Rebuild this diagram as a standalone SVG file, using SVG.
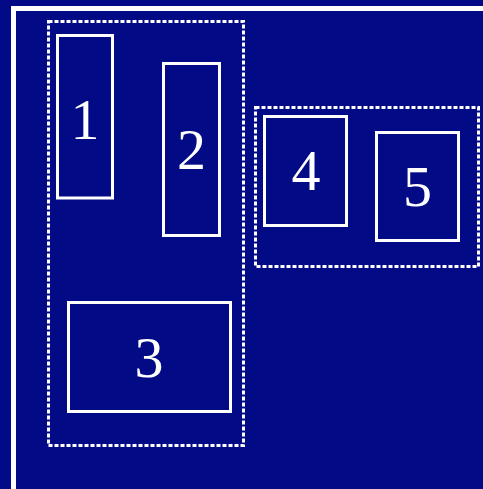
<svg xmlns="http://www.w3.org/2000/svg" width="483" height="489" viewBox="0 0 483 489">
<style>
.box{fill:none;stroke:#fff;stroke-width:3}
.grp{fill:none;stroke:#fff;stroke-width:3;stroke-dasharray:4 2}
.lbl{fill:#fff;font-family:"Liberation Serif","DejaVu Serif",serif;font-size:58px;text-anchor:middle}
</style>
<rect width="483" height="489" fill="#020a86"/>
<path d="M13.5,489 V8.5 H483" fill="none" stroke="#fff" stroke-width="5"/>
<g id="group-a"><rect class="grp" x="48.5" y="21.5" width="195" height="424"/></g>
<g id="group-b"><rect class="grp" x="255.5" y="107.5" width="223" height="159"/></g>
<g id="node1"><rect class="box" x="57.5" y="35.5" width="55" height="162.5"/><text class="lbl" x="85" y="139">1</text></g>
<g id="node2"><rect class="box" x="163.5" y="63.5" width="56" height="172"/><text class="lbl" x="191.5" y="169">2</text></g>
<g id="node3"><rect class="box" x="68.5" y="302.5" width="162" height="109"/><text class="lbl" x="149" y="377">3</text></g>
<g id="node4"><rect class="box" x="264.5" y="116.5" width="82" height="109"/><text class="lbl" x="306" y="190">4</text></g>
<g id="node5"><rect class="box" x="376.5" y="132.5" width="82" height="108"/><text class="lbl" x="417.5" y="206">5</text></g>
<g id="connectors"></g>
</svg>
